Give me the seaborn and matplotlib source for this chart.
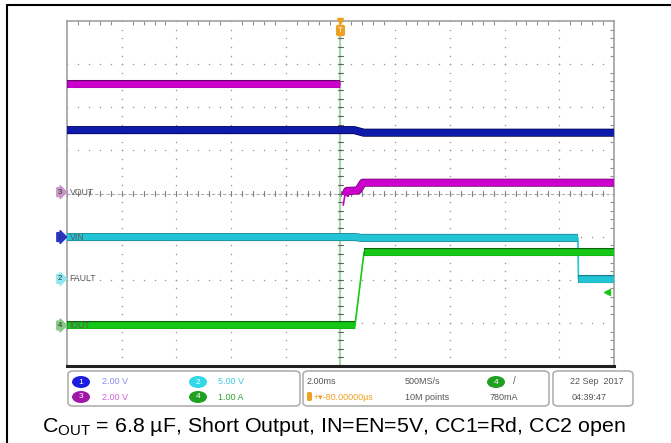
import numpy as np
import pandas as pd
import matplotlib
matplotlib.use('Agg')
import matplotlib.pyplot as plt
import matplotlib.patheffects as pe
from matplotlib.patches import FancyBboxPatch, Ellipse
from matplotlib.lines import Line2D
import seaborn as sns

# Scope settings: 2 ms/div, 10 div wide, 8 div high, trigger at centre
MS_PER_DIV = 2.0

# Traces (time in ms, value in physical units)
vout_pre_t = [-10.0, 0.0]
vout_pre_v = [5.0, 5.0]
vout_post_t = [0.10, 0.16, 0.24, 0.64, 0.82, 10.0]
vout_post_v = [-0.6, -0.15, 0.06, 0.08, 0.44, 0.44]

vin_t = [-10.0, 0.50, 0.85, 10.0]
vin_v = [4.96, 4.96, 4.84, 4.84]

fault_t = [-10.0, 0.55, 0.75, 8.68, 8.70, 10.0]
fault_v = [4.85, 4.85, 4.75, 4.75, 0.0, 0.0]

iout_t = [-10.0, 0.53, 0.86, 10.0]
iout_a = [0.0, 0.0, 1.70, 1.70]

# channel: (number, units per div, ground offset in div, colour, edge colour, marker colour)
channels = {
    'VOUT': (3, 2.0, 0.03, '#cc00cc', '#6a006a', '#c595c5'),
    'VIN': (1, 2.0, -1.01, '#0d1ba8', '#000055', '#2a34c8'),
    'FAULT': (2, 5.0, -1.98, '#22c4d6', '#1a7f8c', '#8fe6f2'),
    'IOUT': (4, 1.0, -3.06, '#16c816', '#0a650a', '#86c886'),
}
trig_level_a = 0.78

traces = [
    ('VOUT', vout_pre_t, vout_pre_v),
    ('VOUT', vout_post_t, vout_post_v),
    ('VIN', vin_t, vin_v),
    ('FAULT', fault_t, fault_v),
    ('IOUT', iout_t, iout_a),
]

W, H = 671, 443
fig = plt.figure(figsize=(W / 100, H / 100), dpi=100)
sns.set_style('white')
plt.rcParams['font.family'] = ['Liberation Sans', 'DejaVu Sans']


def fx(px):
    return px / W


def fy(py):
    return 1 - py / H


ax = fig.add_axes([fx(67), fy(366), fx(614) - fx(67), fy(21) - fy(366)])
ax.set_xlim(-5, 5)
ax.set_ylim(-4, 4)

# graticule dots
grid_dots = []
for gx in range(-4, 5):
    for gy in np.arange(-4, 4.01, 0.2):
        grid_dots.append((gx, gy))
for gy in range(-3, 4):
    for gx in np.arange(-5, 5.01, 0.2):
        grid_dots.append((gx, gy))
gd = np.array(grid_dots)
ax.scatter(gd[:, 0], gd[:, 1], s=1.2, color='#9a9a9a', linewidths=0, zorder=1)

# centre axes with small ticks
ax.axhline(0, color='#b0b0b0', lw=0.8, ls=(0, (3, 2)), zorder=1)
ax.axvline(0, color='#a6d8a6', lw=1.6, zorder=1)
for t in np.arange(-5, 5.01, 0.2):
    ax.plot([t, t], [-0.06, 0.06], color='#808080', lw=0.8, zorder=1)
for t in np.arange(-4, 4.01, 0.2):
    ax.plot([-0.05, 0.05], [t, t], color='#606060', lw=0.8, zorder=1)

# traces: slow parts are drawn as thick noisy bands, fast edges thin
for name, t, v in traces:
    num, scale, off, col, edge, mcol = channels[name]
    df = pd.DataFrame({'x': np.array(t) / MS_PER_DIV,
                       'y': np.array(v) / scale + off})
    sns.lineplot(data=df, x='x', y='y', ax=ax, color=col, lw=1.2,
                 sort=False, estimator=None, zorder=3)
    slow = (df['y'].diff().abs() < 0.2).tolist()[1:]
    runs, cur = [], None
    for i, s in enumerate(slow):
        if s:
            cur = [i, i + 1] if cur is None else [cur[0], i + 1]
        else:
            if cur is not None:
                runs.append(cur)
            cur = None
    if cur is not None:
        runs.append(cur)
    for a, b in runs:
        sns.lineplot(data=df.iloc[a:b + 1], x='x', y='y', ax=ax, color=col, lw=4.8,
                     sort=False, estimator=None, zorder=3,
                     solid_capstyle='butt', solid_joinstyle='round',
                     path_effects=[pe.Stroke(linewidth=5.8, foreground=edge), pe.Normal()])

# channel labels and markers
for name, (num, scale, off, col, edge, mcol) in channels.items():
    ax.text(-4.95, off, name, fontsize=6.3, color='#5a5a5a', va='center', ha='left', zorder=4)
    ax.text(-5.13, off, str(num), fontsize=5.5, color='#333333', va='center', ha='center',
            clip_on=False, zorder=5,
            bbox=dict(boxstyle='rarrow,pad=0.12', fc=mcol, ec=mcol))

# trigger markers
ax.plot([0], [4.0], marker='v', ms=5, color='#f0a020', clip_on=False, zorder=6)
ax.text(0, 3.78, 'T', fontsize=5.5, color='white', ha='center', va='center', zorder=6,
        bbox=dict(boxstyle='round,pad=0.2', fc='#f0a020', ec='#f0a020'))
iout_off = channels['IOUT'][2]
ax.plot([4.88], [trig_level_a + iout_off], marker='<', ms=4, color='#16c816', zorder=6)

ax.set_xticks(range(-5, 6))
ax.set_yticks(range(-4, 5))
ax.set_xticks(np.arange(-5, 5.01, 0.2), minor=True)
ax.set_yticks(np.arange(-4, 4.01, 0.2), minor=True)
ax.tick_params(which='both', direction='in', top=True, right=True, labelbottom=False,
               labelleft=False, colors='#909090', length=3, width=0.8)
ax.tick_params(which='major', length=0)
for s in ax.spines.values():
    s.set_color('#a0a0a0')
    s.set_linewidth(1.2)
ax.spines['bottom'].set_color('#202020')
ax.spines['bottom'].set_linewidth(2.2)
ax.set_xlabel('')
ax.set_ylabel('')

# outer frame
fig.add_artist(Line2D([fx(7), 1], [fy(4.5), fy(4.5)], color='black', lw=1.5))
fig.add_artist(Line2D([fx(7), fx(7)], [0, fy(4.5)], color='black', lw=1.5))

# status bar
for x0, x1 in [(68, 300), (303, 549), (553, 633)]:
    fig.add_artist(FancyBboxPatch((fx(x0), fy(406)), fx(x1) - fx(x0), fy(371) - fy(406),
                                  boxstyle='round,pad=0,rounding_size=0.008',
                                  transform=fig.transFigure, fc='white', ec='#b0b0b0', lw=1.2))

badges = [(81, 382, '1', '#1d1de0', '2.00 V', '#8c8cf5', 102),
          (198, 382, '2', '#30d8e8', '5.00 V', '#40ccdf', 218),
          (81, 397, '3', '#a018a8', '2.00 V', '#d060d8', 102),
          (198, 397, '4', '#20a020', '1.00 A', '#30a030', 218)]
for bx, by, num, bcol, txt, tcol, tx in badges:
    fig.add_artist(Ellipse((fx(bx), fy(by)), 18 / W, 12 / H, transform=fig.transFigure,
                           fc=bcol, ec='none'))
    fig.text(fx(bx), fy(by), num, fontsize=6, color='white', ha='center', va='center')
    fig.text(fx(tx), fy(by), txt, fontsize=6.5, color=tcol, ha='left', va='center')

fig.add_artist(Ellipse((fx(496), fy(382)), 18 / W, 12 / H, transform=fig.transFigure,
                       fc='#20a020', ec='none'))
fig.text(fx(496), fy(382), '4', fontsize=6, color='white', ha='center', va='center')
gray = '#555555'
fig.text(fx(307), fy(381), '2.00ms', fontsize=6.5, color=gray, va='center')
fig.text(fx(405), fy(381), '500MS/s', fontsize=6.5, color=gray, va='center')
fig.text(fx(513), fy(381), '/', fontsize=7, color=gray, va='center')
fig.add_artist(FancyBboxPatch((fx(307), fy(401)), 5 / W, 9 / H, boxstyle='round,pad=0,rounding_size=0.003',
                              transform=fig.transFigure, fc='#f0a020', ec='none'))
fig.text(fx(314), fy(397), '+\u25BE-80.00000\u03BCs', fontsize=6.5, color='#f0a020', va='center')
fig.text(fx(405), fy(397), '10M points', fontsize=6.5, color=gray, va='center')
fig.text(fx(490), fy(397), '780mA', fontsize=6.5, color=gray, va='center')
fig.text(fx(570), fy(381), '22 Sep  2017', fontsize=6.5, color=gray, va='center')
fig.text(fx(572), fy(397), '04:39:47', fontsize=6.5, color=gray, va='center')

# caption
fig.text(fx(334), fy(426),
         r'C$_{\mathregular{OUT}}$ = 6.8 µF, Short Output, IN=EN=5V, CC1=Rd, CC2 open',
         fontsize=15.4, color='black', ha='center', va='center')

fig.savefig('out.png', dpi=100)
